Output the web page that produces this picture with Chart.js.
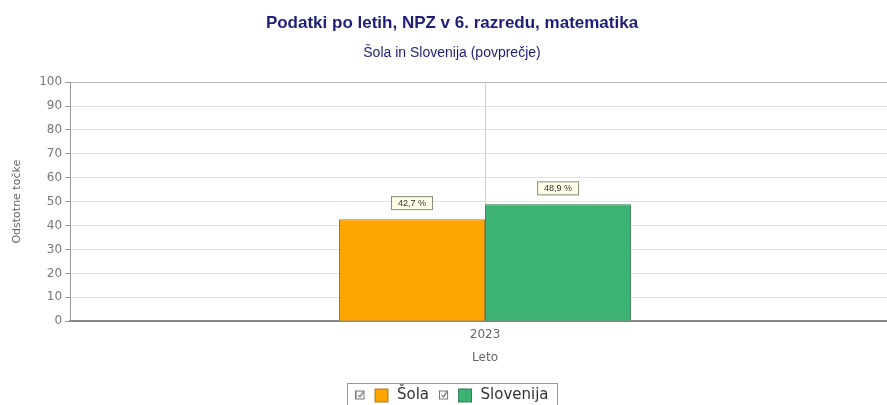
<!DOCTYPE html>
<html>
<head>
<meta charset="utf-8">
<script src="https://cdn.jsdelivr.net/npm/chart.js@4"></script>
<style>
    body { margin: 0; background: #fff; overflow: hidden; }
    #wrap { width: 900px; height: 405px; }
</style>
</head>
<body>
<div id="wrap"><canvas id="output"></canvas></div>
<script>
const years = ["2023"];
const sola = [42.7];
const slovenija = [48.9];
const seriesNames = ["Šola", "Slovenija"];
const fills = ["#FFA500", "#3CB371"];
const edges = ["#a8782a", "#2f7d55"];
const yTicks = [0, 10, 20, 30, 40, 50, 60, 70, 80, 90, 100];

// legend marker: little checkbox followed by the colour square
function legendIcon(fill, edge) {
    const c = document.createElement("canvas");
    c.width = 34;
    c.height = 16;
    const g = c.getContext("2d");
    g.strokeStyle = "#777";
    g.lineWidth = 1;
    g.strokeRect(0.5, 3.5, 8, 8);
    g.beginPath();
    g.moveTo(2.5, 7.5);
    g.lineTo(4.5, 9.5);
    g.lineTo(7.5, 4.5);
    g.strokeStyle = "#222";
    g.stroke();
    g.fillStyle = fill;
    g.fillRect(19, 1, 14, 14);
    g.strokeStyle = edge;
    g.strokeRect(19.5, 1.5, 13, 13);
    return c;
}

// value boxes above bars, and the frame round the legend
const extras = {
    id: "extras",
    afterDatasetsDraw(chart) {
        const ctx = chart.ctx;
        ctx.save();
        ctx.font = "9px 'Liberation Sans', Arial";
        ctx.textAlign = "center";
        ctx.textBaseline = "middle";
        chart.data.datasets.forEach((ds, i) => {
            chart.getDatasetMeta(i).data.forEach((bar, j) => {
                const text = ds.data[j].toFixed(1).replace(".", ",") + " %";
                const w = 42, h = 14;
                const cx = bar.x, cy = bar.y - 16;
                ctx.fillStyle = "#ffffe8";
                ctx.strokeStyle = "#8a8a7a";
                ctx.lineWidth = 1;
                ctx.fillRect(cx - w / 2, cy - h / 2, w, h);
                ctx.strokeRect(cx - w / 2 + 0.5, cy - h / 2 + 0.5, w - 1, h - 1);
                ctx.fillStyle = "#333";
                ctx.fillText(text, cx, cy + 0.5);
            });
        });
        ctx.restore();
    },
    afterDraw(chart) {
        const ctx = chart.ctx;
        const boxes = chart.legend.legendHitBoxes;
        if (!boxes || !boxes.length) return;
        const first = boxes[0], last = boxes[boxes.length - 1];
        ctx.save();
        ctx.strokeStyle = "#999";
        ctx.lineWidth = 1;
        const left = Math.round(first.left) - 7.5;
        const right = Math.round(last.left + last.width) + 8.5;
        ctx.strokeRect(left, Math.round(first.top) - 4.5, right - left, first.height + 24);
        ctx.restore();
    }
};

const chart = new Chart(document.getElementById("output"), {
    type: "bar",
    data: {
        labels: years,
        datasets: [
            { label: seriesNames[0], data: sola, backgroundColor: fills[0], borderColor: edges[0], borderWidth: 1,
              pointStyle: legendIcon(fills[0], edges[0]) },
            { label: seriesNames[1], data: slovenija, backgroundColor: fills[1], borderColor: edges[1], borderWidth: 1,
              pointStyle: legendIcon(fills[1], edges[1]) }
        ]
    },
    options: {
        responsive: true,
        maintainAspectRatio: false,
        animation: false,
        datasets: { bar: { categoryPercentage: 0.352, barPercentage: 1 } },
        layout: { padding: { left: 4, right: 0, bottom: 0 } },
        plugins: {
            title: {
                display: true,
                text: "Podatki po letih, NPZ v 6. razredu, matematika",
                color: "#1f1f7a",
                font: { family: "'Liberation Sans', Arial", size: 17, weight: "bold" },
                padding: { top: 13, bottom: 11 }
            },
            subtitle: {
                display: true,
                text: "Šola in Slovenija (povprečje)",
                color: "#1f1f7a",
                font: { family: "'Liberation Sans', Arial", size: 14 },
                padding: { top: 0, bottom: 21 }
            },
            legend: {
                position: "bottom",
                maxHeight: 27,
                labels: {
                    color: "#333",
                    font: { family: "'DejaVu Sans'", size: 15 },
                    usePointStyle: true,
                    pointStyleWidth: 34,
                    boxHeight: 14,
                    padding: 10
                }
            },
            tooltip: { enabled: false }
        },
        scales: {
            x: {
                grid: { offset: false, color: "#cfcfcf", drawTicks: false },
                border: { color: "#888", width: 2 },
                ticks: { color: "#666", font: { family: "'DejaVu Sans'", size: 12 }, padding: 6 },
                title: {
                    display: true, text: "Leto", color: "#666",
                    font: { family: "'DejaVu Sans'", size: 12 },
                    padding: { top: 3, bottom: 13 }
                }
            },
            y: {
                min: 0,
                max: 100,
                afterBuildTicks: axis => { axis.ticks = yTicks.map(v => ({ value: v })); },
                grid: {
                    color: ctx => ctx.tick && ctx.tick.value === 100 ? "#bbb" : "#e2e2e2",
                    tickLength: 5,
                    tickColor: "#999"
                },
                border: { color: "#999" },
                ticks: { color: "#777", font: { family: "'DejaVu Sans'", size: 12 }, padding: 3 },
                title: {
                    display: true, text: "Odstotne točke", color: "#666",
                    font: { family: "'DejaVu Sans'", size: 11 },
                    padding: { top: 7, bottom: 12 }
                }
            }
        }
    },
    plugins: [extras]
});
</script>
</body>
</html>
